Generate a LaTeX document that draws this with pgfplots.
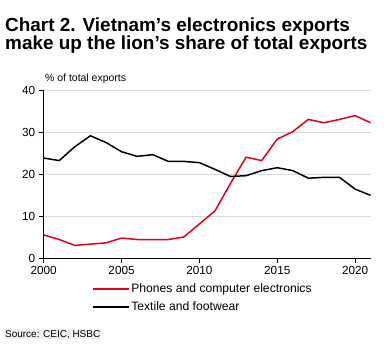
\documentclass[border=0pt]{standalone}
\usepackage{pgfplots}
\pgfplotsset{compat=1.18}
\usepackage{fontspec}
\setmainfont{Liberation Sans}
\definecolor{hsbcred}{HTML}{E0001B}
\definecolor{gridgray}{HTML}{D9D9D9}
\begin{document}
\begin{tikzpicture}
\path[use as bounding box] (-43.7bp,-92bp) rectangle (340.3bp,258bp);
\begin{axis}[
  scale only axis, width=327bp, height=168bp,
  at={(0,0)}, anchor=south west,
  xmin=2000, xmax=2021, ymin=0, ymax=40,
  xtick={2000,2005,...,2020}, ytick={0,10,...,40},
  axis y line*=left, axis x line*=bottom,
  axis line style={black, line width=0.8pt},
  ymajorgrids, grid style={gridgray, line width=0.8pt},
  tick style={black, line width=0.8pt}, major tick length=5bp, tick align=outside,
  /pgf/number format/1000 sep={},
  /pgf/number format/assume math mode=true,
  ticklabel style={font=\fontsize{11.8}{12}\selectfont},
  legend style={at={(0.151,-0.14)}, anchor=north west, draw=none, fill=none,
    font=\fontsize{12.2}{13}\selectfont, row sep=3.5bp, inner sep=0pt,
    cells={anchor=west}},
  legend image code/.code={\fill[#1, draw=none] (0cm,-1bp) rectangle (36bp,1bp);},
]
\addplot[hsbcred, line width=1.5pt] coordinates {
(2000,5.5) (2001,4.4) (2002,3.0) (2003,3.3) (2004,3.6) (2005,4.75) (2006,4.4) (2007,4.4)
(2008,4.4) (2009,5.0) (2010,8.1) (2011,11.2) (2012,17.8) (2013,24.0) (2014,23.2) (2015,28.3)
(2016,30.1) (2017,33.0) (2018,32.2) (2019,33.0) (2020,33.9) (2021,32.2)};
\addlegendentry{Phones and computer electronics}
\addplot[black, line width=1.5pt] coordinates {
(2000,23.8) (2001,23.2) (2002,26.5) (2003,29.1) (2004,27.5) (2005,25.3) (2006,24.2) (2007,24.6)
(2008,23.0) (2009,23.0) (2010,22.7) (2011,21.1) (2012,19.4) (2013,19.6) (2014,20.8) (2015,21.5)
(2016,20.8) (2017,19.0) (2018,19.2) (2019,19.2) (2020,16.4) (2021,14.9)};
\addlegendentry{Textile and footwear}
\end{axis}
\node[anchor=base west, inner sep=0pt, font=\bfseries\fontsize{19}{19}\selectfont] at (-38.7bp,226bp) {Chart 2. Vietnam’s electronics exports};
\node[anchor=base west, inner sep=0pt, font=\bfseries\fontsize{19}{19}\selectfont] at (-38.7bp,208bp) {make up the lion’s share of total exports};
\node[anchor=base west, inner sep=0pt, font=\fontsize{10.5}{11}\selectfont] at (1.3bp,176bp) {\% of total exports};
\node[anchor=base west, inner sep=1bp, fill=gray!12, font=\fontsize{10}{11}\selectfont] at (-39.7bp,-79bp) {Source: CEIC, HSBC};
\end{tikzpicture}
\end{document}
